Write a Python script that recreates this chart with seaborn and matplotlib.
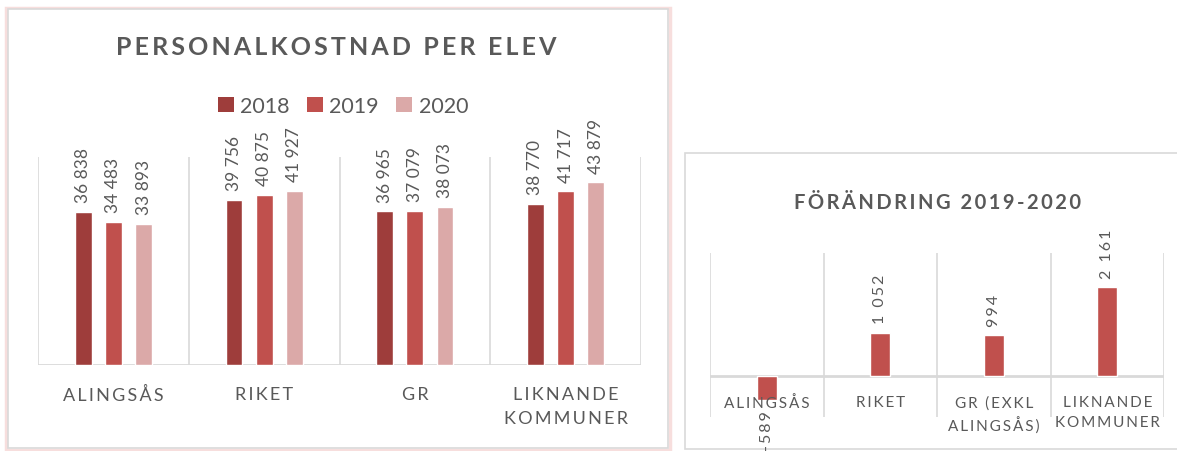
import matplotlib
matplotlib.use("Agg")
import matplotlib.pyplot as plt
import matplotlib.transforms as mtransforms
from matplotlib.patches import Rectangle, Patch
import pandas as pd
import seaborn as sns

# Data
kategorier = ["ALINGSÅS", "RIKET", "GR", "LIKNANDE\nKOMMUNER"]
ar = ["2018", "2019", "2020"]
v2018 = [36838, 39756, 36965, 38770]
v2019 = [34483, 40875, 37079, 41717]
v2020 = [33893, 41927, 38073, 43879]

andring_kat = ["ALINGSÅS", "RIKET", "GR (EXKL\nALINGSÅS)", "LIKNANDE\nKOMMUNER"]
andring = [-589, 1052, 994, 2161]

farger = ["#9E3D3B", "#C0504D", "#DBA9A8"]
TEXT = "#595959"
GRID = "#D9D9D9"
FONT = ["Lato", "DejaVu Sans"]


def spaced(s):
    """Letter-spacing imitation with thin spaces."""
    return "\n".join("\u2009".join(rad) for rad in s.split("\n"))


def fmt(v):
    return f"{v:,}".replace(",", " ")


sns.set_theme(style="white")
plt.rcParams["font.family"] = FONT

fig = plt.figure(figsize=(11.77, 4.52), dpi=100)
W, H = 1177, 452

# chart frames (with a faint reddish shadow round the left one)
fig.patches.append(Rectangle((6 / W, 1 - 451 / H), 664 / W, 442 / H, transform=fig.transFigure,
                             facecolor="none", edgecolor="#F7DEDD", lw=2.5, zorder=-10))
fig.patches.append(Rectangle((8 / W, 1 - 449 / H), 660 / W, 439 / H, transform=fig.transFigure,
                             facecolor="white", edgecolor=GRID, lw=1.2, zorder=-9))
fig.patches.append(Rectangle((685 / W, 1 - 450 / H), 500 / W, 296 / H, transform=fig.transFigure,
                             facecolor="white", edgecolor=GRID, lw=1.2, zorder=-9))

# ---- left chart: personalkostnad per elev ----
df = pd.DataFrame({
    "kategori": kategorier * 3,
    "ar": [a for a in ar for _ in kategorier],
    "varde": v2018 + v2019 + v2020,
})
ax1 = fig.add_axes([38 / W, 1 - 366 / H, 603 / W, 208 / H])
ax1.patch.set_alpha(0)
sns.barplot(data=df, x="kategori", y="varde", hue="ar", palette=farger,
            width=0.6, gap=0.44, ax=ax1, saturation=1)
ax1.get_legend().remove()
for cont, vals in zip(ax1.containers, [v2018, v2019, v2020]):
    ax1.bar_label(cont, labels=[fmt(v) for v in vals], rotation=90, padding=7,
                  fontsize=12.5, color=TEXT)
ax1.set_xlim(-0.5, 3.5)
ax1.set_ylim(0, 50000)
for x in [-0.5, 0.5, 1.5, 2.5, 3.5]:
    ax1.axvline(x, color=GRID, lw=1.2, zorder=0)
ax1.axhline(0, color=GRID, lw=2, zorder=0)
ax1.set_xticks(range(len(kategorier)), [spaced(k) for k in kategorier],
               fontsize=13, color=TEXT, linespacing=1.6)
ax1.tick_params(axis="x", length=0, pad=15)
ax1.set_yticks([])
ax1.set_xlabel("")
ax1.set_ylabel("")
sns.despine(ax=ax1, left=True, bottom=True)

fig.text(336 / W, 1 - 48 / H, spaced("PERSONALKOSTNAD PER ELEV"), ha="center", va="center",
         fontsize=18, fontweight="bold", color=TEXT)
handles = [Patch(facecolor=c, edgecolor="none") for c in farger]
fig.legend(handles, ar, loc="center", bbox_to_anchor=(343 / W, 1 - 107 / H), ncol=3,
           frameon=False, fontsize=15.5, handlelength=0.75, handleheight=0.75,
           handletextpad=0.3, columnspacing=0.8, labelcolor=TEXT)

# ---- right chart: förändring 2019-2020 ----
ax2 = fig.add_axes([710 / W, 1 - 418 / H, 454 / W, 164 / H])
ax2.patch.set_alpha(0)
sns.barplot(x=andring_kat, y=andring, color=farger[1], width=0.18, ax=ax2, saturation=1)
ax2.set_xlim(-0.5, 3.5)
ax2.set_ylim(-1000, 3000)
for x in [-0.5, 0.5, 1.5, 2.5, 3.5]:
    ax2.axvline(x, color=GRID, lw=1.2, zorder=0)
ax2.axhline(0, color=GRID, lw=2, zorder=0)
ax2.bar_label(ax2.containers[0], labels=[spaced(fmt(v)) for v in andring], rotation=90,
              padding=7, fontsize=11.5, color=TEXT)
lab_tr = mtransforms.offset_copy(ax2.transData, fig=fig, x=0, y=-14, units="points")
for i, k in enumerate(andring_kat):
    ax2.text(i, 0, spaced(k), transform=lab_tr, ha="center", va="top", fontsize=11,
             color=TEXT, linespacing=1.5)
ax2.set_xticks([])
ax2.set_yticks([])
sns.despine(ax=ax2, left=True, bottom=True)

fig.text(937 / W, 1 - 203 / H, spaced("FÖRÄNDRING 2019-2020"), ha="center", va="center",
         fontsize=14.5, fontweight="bold", color=TEXT)

fig.savefig("out.png", dpi=100)
